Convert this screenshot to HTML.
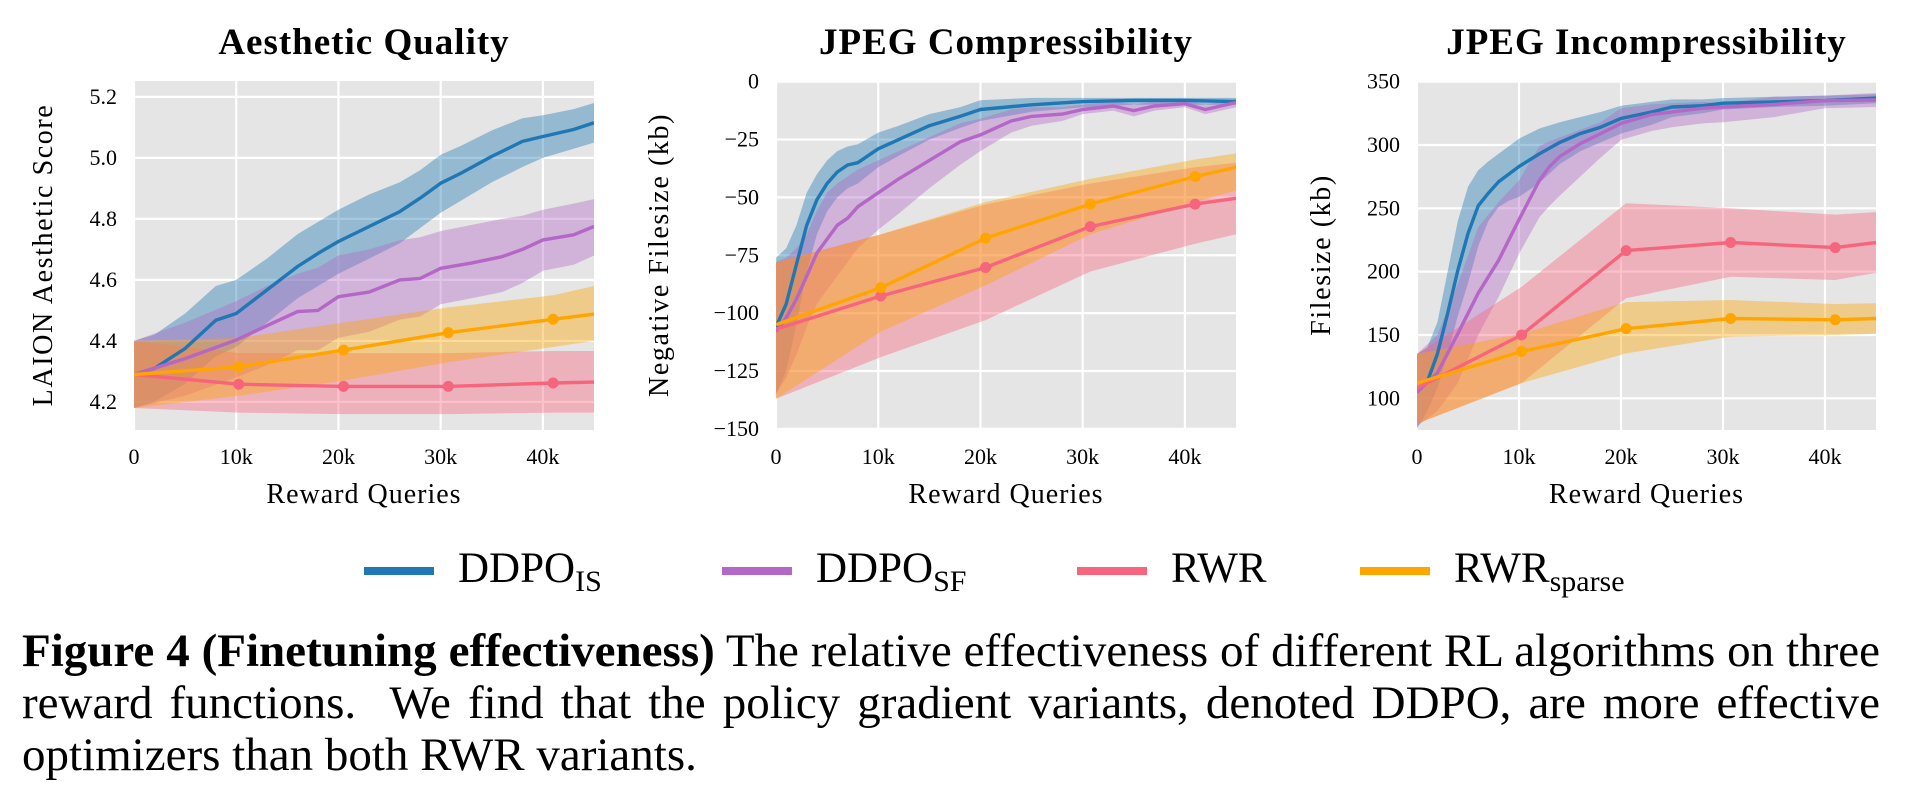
<!DOCTYPE html>
<html><head><meta charset="utf-8">
<style>
html,body{margin:0;padding:0;background:#fff;}
body{width:1932px;height:810px;position:relative;overflow:hidden;font-family:"Liberation Serif",serif;}
svg{position:absolute;left:0;top:0;}
.cap{position:absolute;left:22px;width:1858px;font-size:47px;line-height:52px;color:#000;text-align:justify;text-align-last:justify;white-space:nowrap;}
.cap.last{text-align-last:left;}
</style></head>
<body>
<svg id="fig" width="1932" height="810" xmlns="http://www.w3.org/2000/svg"></svg>
<div class="cap" style="top:625px"><b>Figure 4 (Finetuning effectiveness)</b> The relative effectiveness of different RL algorithms on three</div>
<div class="cap" style="top:677px">reward functions.&nbsp; We find that the policy gradient variants, denoted DDPO, are more effective</div>
<div class="cap last" style="top:729px">optimizers than both RWR variants.</div>
<script>
// ---------- Panel 1: Aesthetic Quality ----------
const p1_is_x = [0,2,5,8,10,13,16,18,20,23,26,28,30,32,35,38,40,43,45];
const p1_is_mean = [4.29,4.31,4.375,4.468,4.49,4.567,4.644,4.687,4.726,4.775,4.824,4.868,4.917,4.95,5.005,5.054,5.07,5.093,5.115];
const p1_is_hi = [4.40,4.42,4.49,4.58,4.60,4.67,4.75,4.79,4.83,4.88,4.92,4.96,5.01,5.04,5.09,5.13,5.14,5.16,5.18];
const p1_is_lo = [4.18,4.20,4.26,4.35,4.38,4.46,4.54,4.58,4.62,4.67,4.72,4.77,4.82,4.86,4.92,4.97,5.0,5.03,5.05];
const p1_sf_x = [0,5,10,13,16,18,20,23,26,28,30,33,36,38,40,43,45];
const p1_sf_mean = [4.29,4.342,4.403,4.45,4.496,4.5,4.545,4.56,4.6,4.605,4.638,4.655,4.676,4.7,4.731,4.748,4.775];
const p1_sf_hi = [4.40,4.46,4.53,4.58,4.62,4.64,4.68,4.70,4.73,4.74,4.76,4.78,4.80,4.81,4.83,4.85,4.865];
const p1_sf_lo = [4.18,4.22,4.28,4.32,4.37,4.37,4.41,4.43,4.47,4.48,4.52,4.54,4.56,4.59,4.63,4.65,4.68];
const p1_rwr_x = [0,10.25,20.5,30.75,41,45];
const p1_rwr_mean = [4.29,4.258,4.251,4.251,4.262,4.265];
const p1_rwr_hi = [4.40,4.36,4.36,4.36,4.367,4.367];
const p1_rwr_lo = [4.18,4.165,4.16,4.16,4.165,4.165];
const p1_sp_x = [0,10.25,20.5,30.75,41,45];
const p1_sp_mean = [4.29,4.315,4.37,4.427,4.471,4.488];
const p1_sp_hi = [4.40,4.41,4.46,4.51,4.55,4.58];
const p1_sp_lo = [4.18,4.22,4.27,4.33,4.38,4.40];
const p1_yticks = [4.2,4.4,4.6,4.8,5.0,5.2];
const p1_ylabels = ["4.2","4.4","4.6","4.8","5.0","5.2"];
// ---------- Panel 2: JPEG Compressibility ----------
const p2_is_x = [0,1,2,3,4,5,6,7,8,10,12,15,18,20,25,30,35,40,45];
const p2_is_mean = [-106,-96,-79,-62,-51,-44,-39,-36,-35,-29,-25,-19,-15,-12,-10,-8.6,-8.1,-8.1,-8.6];
const p2_is_hi = [-76,-72,-62,-48,-40,-34,-30,-28,-27,-22,-19,-14,-11,-8,-7,-7,-7,-7,-7];
const p2_is_lo = [-135,-125,-105,-82,-66,-56,-50,-46,-44,-37,-32,-25,-20,-17,-13,-11,-10,-10,-10];
const p2_sf_x = [0,1,2,3,4,5,6,7,8,10,12,15,18,20,23,25,28,30,33,35,37,40,42,45];
const p2_sf_mean = [-108,-102,-94,-84,-74,-68,-62,-59,-54,-48,-42,-34,-26,-23,-17,-15,-14,-12,-10.5,-12.5,-10.5,-9.5,-12,-9];
const p2_sf_hi = [-78,-76,-72,-66,-56,-48,-44,-41,-38,-34,-30,-24,-18,-16,-12,-11,-11,-10,-8.5,-10,-8.5,-8,-10,-7.5];
const p2_sf_lo = [-135,-128,-118,-106,-96,-90,-84,-78,-72,-64,-57,-46,-36,-30,-22,-19,-17,-14,-12.5,-15,-12.5,-11,-14,-11];
const p2_rwr_x = [0,10.25,20.5,30.75,41,45];
const p2_rwr_mean = [-107,-92.6,-80.3,-62.6,-52.9,-50.4];
const p2_rwr_hi = [-78,-66,-53,-44,-37,-35];
const p2_rwr_lo = [-137,-119,-103,-82,-70,-66];
const p2_sp_x = [0,10.25,20.5,30.75,41,45];
const p2_sp_mean = [-105,-89,-67.6,-52.9,-41,-37];
const p2_sp_hi = [-78,-66,-52,-42,-33.6,-31];
const p2_sp_lo = [-137,-108,-88,-66,-52,-47];
const p2_yticks = [0,-25,-50,-75,-100,-125,-150];
const p2_ylabels = ["0","\u221225","\u221250","\u221275","\u2212100","\u2212125","\u2212150"];
// ---------- Panel 3: JPEG Incompressibility ----------
const p3_is_x = [0,1,2,3,4,5,6,7,8,9,10,12,14,16,18,20,23,25,28,30,35,40,45];
const p3_is_mean = [105,113,135,167,201,230,252,262,271,277,283,293,302,309,314,321,326,330,331,333,334,335,337];
const p3_is_hi = [135,140,160,200,240,267,280,287,293,299,305,313,318,322,326,331,334,336,336,337,338,339,340];
const p3_is_lo = [76,90,108,135,165,191,220,240,251,256,259,270,285,295,302,309,316,322,325,328,330,331,333];
const p3_sf_x = [0,2,4,6,8,10,12,13,14,16,18,20,23,25,28,30,35,40,45];
const p3_sf_mean = [105,120,151,183,209,241,272,283,291,301,309,317,324,326,329,330,332,335,335.5];
const p3_sf_hi = [135,150,190,235,255,272,299,303,306,312,318,329,332,333,334,333,338,339,341];
const p3_sf_lo = [78,90,112,150,180,214,243,252,260,275,290,304,311,314,317,318,322,329,330];
const p3_rwr_x = [0,10.25,20.5,30.75,41,45];
const p3_rwr_mean = [108,150,216.6,223,219,223];
const p3_rwr_hi = [135,188,254,250,245,247];
const p3_rwr_lo = [80,112,179,196,193.4,199];
const p3_sp_x = [0,10.25,20.5,30.75,41,45];
const p3_sp_mean = [112,137,155,163,162,163];
const p3_sp_hi = [135,151,176,177.6,174.5,175];
const p3_sp_lo = [80,112,135.5,148.7,150,151];
const p3_yticks = [100,150,200,250,300,350];
const p3_ylabels = ["100","150","200","250","300","350"];
// ---------- shared x axis ----------
const xticks = [0,10,20,30,40];
const xlabels = ["0","10k","20k","30k","40k"];
// legend
const legendNames = ["DDPO","DDPO","RWR","RWR"];
const legendSubs = ["IS","SF","","sparse"];

const COLORS = {is:"#1f77b4", sf:"#b467c6", rwr:"#f7657d", sp:"#ffa500"};
const NS = "http://www.w3.org/2000/svg";
const svg = document.getElementById("fig");
function mk(tag, attrs, parent){
  const e = document.createElementNS(NS, tag);
  for (const k in attrs) e.setAttribute(k, attrs[k]);
  (parent||svg).appendChild(e);
  return e;
}
function txt(s, attrs, parent){ const t = mk("text", attrs, parent); t.textContent = s; return t; }

function drawPanel(cfg){
  const g = mk("g", {});
  
  
  const L=cfg.left, R=cfg.right, T=81, B=430;
  const xs = k => L + k/45*(R-L);
  const ys = v => B - (v-cfg.ymin)/(cfg.ymax-cfg.ymin)*(B-T);
  const bg = mk("rect", {x:L,y:T,width:R-L,height:B-T,fill:"#e5e5e5"}, g);
  
  
  cfg.yticks.forEach((v,i)=>{
    const y = ys(v);
    const gl = mk("line",{x1:L,x2:R,y1:y,y2:y,stroke:"#fff","stroke-width":2.2}, g);
    
    
    const t = txt(cfg.ylabels[i], {x:L-17,y:y+7,"text-anchor":"end","font-size":22,"font-family":"Liberation Serif, serif"}, g);
    
    
  });
  xticks.forEach((k,i)=>{
    const x = xs(k);
    const gl = mk("line",{x1:x,x2:x,y1:T,y2:B,stroke:"#fff","stroke-width":2.2}, g);
    
    
    const t = txt(xlabels[i], {x:x,y:464,"text-anchor":"middle","font-size":22,"font-family":"Liberation Serif, serif"}, g);
    
    
  });
  const cx = (L+R)/2;
  const title = txt(cfg.title, {x:cx,y:54,"text-anchor":"middle","font-size":37,"font-weight":"bold","font-family":"Liberation Serif, serif","letter-spacing":"1"}, g);
  
  
  const xl = txt("Reward Queries", {x:cx,y:503,"text-anchor":"middle","font-size":28,"font-family":"Liberation Serif, serif","letter-spacing":"1"}, g);
  
  
  const yl = txt(cfg.ylabel, {x:0,y:0,"text-anchor":"middle","font-size":28,"font-family":"Liberation Serif, serif","letter-spacing":"1.6",transform:`translate(${cfg.ylx},255) rotate(-90)`}, g);
  
  
  const clip = mk("clipPath",{id:"clip"+cfg.id}, g);
  mk("rect",{x:L,y:T,width:R-L,height:B-T}, clip);
  const data = mk("g",{"clip-path":`url(#clip${cfg.id})`}, g);
  cfg.series.forEach(s=>{
    let d = s.x.map((k,i)=>(i?"L":"M")+xs(k).toFixed(1)+","+ys(s.hi[i]).toFixed(1)).join("");
    for (let i=s.x.length-1;i>=0;i--) d += "L"+xs(s.x[i]).toFixed(1)+","+ys(s.lo[i]).toFixed(1);
    const band = mk("path",{d:d+"Z",fill:COLORS[s.key],"fill-opacity":0.4,stroke:"none"}, data);
    
    
  });
  cfg.series.forEach(s=>{
    const d = s.x.map((k,i)=>(i?"L":"M")+xs(k).toFixed(1)+","+ys(s.mean[i]).toFixed(1)).join("");
    const line = mk("path",{d:d,fill:"none",stroke:COLORS[s.key],"stroke-width":3.4,"stroke-linejoin":"round"}, data);
    
    
    if (s.markers){
      for (let i=1;i<s.x.length-1;i++){
        const c = mk("circle",{cx:xs(s.x[i]),cy:ys(s.mean[i]),r:5.5,fill:COLORS[s.key]}, data);
        
        
      }
    }
  });
}
function ser(key,x,mean,hi,lo,markers){return {key,x,mean,hi,lo,markers};}

drawPanel({id:1,name:"aesthetic-quality-panel",title:"Aesthetic Quality",ylabel:"LAION Aesthetic Score",left:134,right:594,ymin:4.108,ymax:5.252,ylx:52,
  yticks:p1_yticks,ylabels:p1_ylabels,series:[
  ser("is",p1_is_x,p1_is_mean,p1_is_hi,p1_is_lo,false),
  ser("sf",p1_sf_x,p1_sf_mean,p1_sf_hi,p1_sf_lo,false),
  ser("rwr",p1_rwr_x,p1_rwr_mean,p1_rwr_hi,p1_rwr_lo,true),
  ser("sp",p1_sp_x,p1_sp_mean,p1_sp_hi,p1_sp_lo,true)]});
drawPanel({id:2,name:"jpeg-compressibility-panel",title:"JPEG Compressibility",ylabel:"Negative Filesize (kb)",left:776,right:1236,ymin:-150.5,ymax:0.3,ylx:668,
  yticks:p2_yticks,ylabels:p2_ylabels,series:[
  ser("is",p2_is_x,p2_is_mean,p2_is_hi,p2_is_lo,false),
  ser("sf",p2_sf_x,p2_sf_mean,p2_sf_hi,p2_sf_lo,false),
  ser("rwr",p2_rwr_x,p2_rwr_mean,p2_rwr_hi,p2_rwr_lo,true),
  ser("sp",p2_sp_x,p2_sp_mean,p2_sp_hi,p2_sp_lo,true)]});
drawPanel({id:3,name:"jpeg-incompressibility-panel",title:"JPEG Incompressibility",ylabel:"Filesize (kb)",left:1417,right:1876,ymin:75,ymax:350.5,ylx:1330,
  yticks:p3_yticks,ylabels:p3_ylabels,series:[
  ser("is",p3_is_x,p3_is_mean,p3_is_hi,p3_is_lo,false),
  ser("sf",p3_sf_x,p3_sf_mean,p3_sf_hi,p3_sf_lo,false),
  ser("rwr",p3_rwr_x,p3_rwr_mean,p3_rwr_hi,p3_rwr_lo,true),
  ser("sp",p3_sp_x,p3_sp_mean,p3_sp_hi,p3_sp_lo,true)]});

// legend
const legKeys = ["is","sf","rwr","sp"];
const legLineX = [364,722,1077,1360];
const lg = mk("g",{});


legKeys.forEach((k,i)=>{
  const x0 = legLineX[i];
  const ln = mk("line",{x1:x0,x2:x0+70,y1:571,y2:571,stroke:COLORS[k],"stroke-width":8}, lg);
  
  
  const t = mk("text",{x:x0+94,y:582,"font-size":43,"font-family":"Liberation Serif, serif"}, lg);
  
  
  const a = mk("tspan",{}, t); a.textContent = legendNames[i];
  if (legendSubs[i]){ const b = mk("tspan",{dy:9,"font-size":30}, t); b.textContent = legendSubs[i]; }
});
</script>
</body></html>
